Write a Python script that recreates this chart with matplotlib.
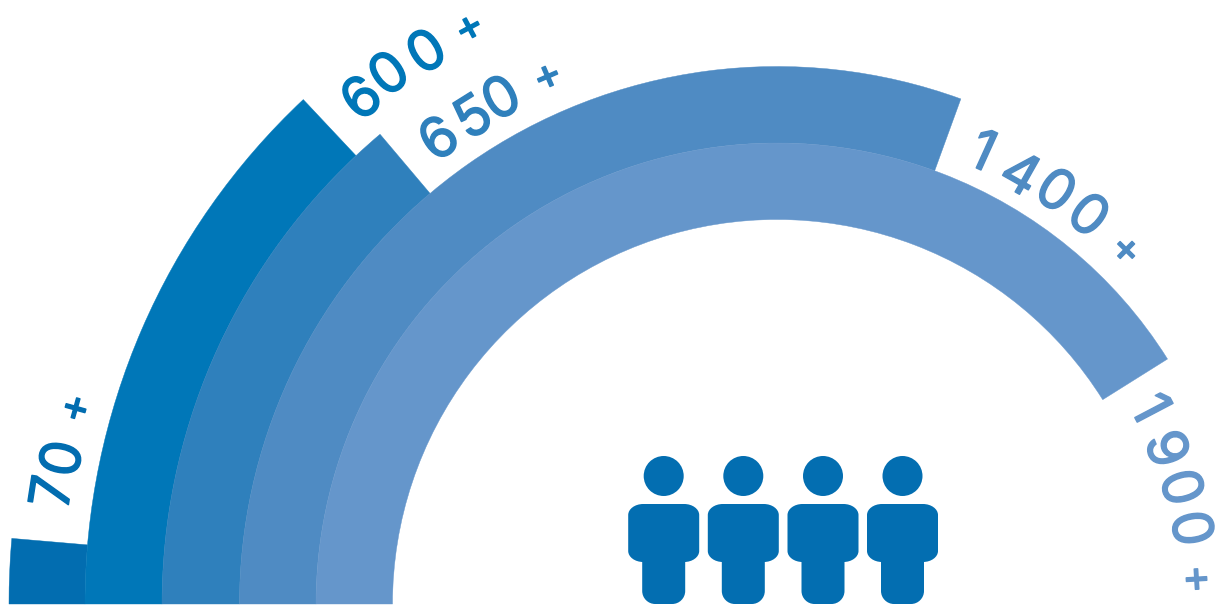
import math
import matplotlib
matplotlib.use("Agg")
import matplotlib.pyplot as plt
import matplotlib.patheffects as pe
from matplotlib.patches import Wedge, Circle, PathPatch
from matplotlib.path import Path

# --- data ---
labels = ["70 +", "600 +", "650 +", "1400 +", "1900 +"]
arc_degrees = [4.9, 46.8, 49.8, 110.0, 147.9]
colors = ["#026DB0", "#0077B8", "#2F80BC", "#4F8BC3", "#6596CB"]
people_count = 4

# --- layout ---
W, H = 1226, 605
CX, CY = 777, 1
RING_EDGES = [768, 692, 615, 537.5, 461, 384.5]
LABEL_RADII = [
    [735.5, 731.5, 731],
    [656.5, 659, 656, 656],
    [577, 576, 578, 578],
    [499.5, 496, 500.5, 500, 500],
    [423.5, 421, 422.5, 423, 423],
]
# angle of each visible character, in degrees clockwise from the left end
LABEL_ANGLES = [
    [8.8, 11.5, 15.6],
    [50.6, 53.8, 57.6, 61.9],
    [54.0, 58.0, 61.4, 66.5],
    [114.4, 119.5, 124.0, 128.7, 134.6],
    [152.3, 158.3, 163.9, 169.65, 176.6],
]
DIGIT_PT, PLUS_PT = 40, 31
DIGIT_DROP, PLUS_DROP = 20, 15  # glyph centre above the baseline, px
PERSON_X = [663.7, 743.3, 823.0, 902.5]
PERSON_COLOR = "#036EB1"


def rounded(x0, y0, x1, y1, rx, ry):
    k = 0.45
    v = [(x0 + rx, y0), (x1 - rx, y0),
         (x1 - rx * k, y0), (x1, y0 + ry * k), (x1, y0 + ry),
         (x1, y1 - ry),
         (x1, y1 - ry * k), (x1 - rx * k, y1), (x1 - rx, y1),
         (x0 + rx, y1),
         (x0 + rx * k, y1), (x0, y1 - ry * k), (x0, y1 - ry),
         (x0, y0 + ry),
         (x0, y0 + ry * k), (x0 + rx * k, y0), (x0 + rx, y0),
         (x0 + rx, y0)]
    c = [Path.MOVETO, Path.LINETO,
         Path.CURVE4, Path.CURVE4, Path.CURVE4,
         Path.LINETO,
         Path.CURVE4, Path.CURVE4, Path.CURVE4,
         Path.LINETO,
         Path.CURVE4, Path.CURVE4, Path.CURVE4,
         Path.LINETO,
         Path.CURVE4, Path.CURVE4, Path.CURVE4,
         Path.CLOSEPOLY]
    return Path(v, c)


fig = plt.figure(figsize=(W / 100, H / 100), dpi=100, facecolor="white")
ax = fig.add_axes([0, 0, 1, 1])
ax.set_xlim(0, W)
ax.set_ylim(0, H)
ax.set_aspect("equal")
ax.axis("off")

for i, (sweep, col) in enumerate(zip(arc_degrees, colors)):
    r = RING_EDGES[i]
    ax.add_patch(Wedge((CX, CY), r, 180 - sweep, 180, width=r - RING_EDGES[i + 1],
                       facecolor=col, edgecolor=col, linewidth=0.3))

for label, radii, angles, col in zip(labels, LABEL_RADII, LABEL_ANGLES, colors):
    chars = label.replace(" ", "")
    for ch, r, a in zip(chars, radii, angles):
        plus = ch == "+"
        rb = r - (PLUS_DROP if plus else DIGIT_DROP)
        t = math.radians(180 - a)
        x = CX + rb * math.cos(t)
        y = CY + rb * math.sin(t)
        ax.text(x, y, ch, color=col, family="Inter",
                fontsize=PLUS_PT if plus else DIGIT_PT, rotation=90 - a,
                rotation_mode="anchor", ha="center", va="baseline",
                path_effects=[pe.withStroke(linewidth=1.1, foreground=col)])

for px in PERSON_X[:people_count]:
    ax.add_patch(Circle((px, H - 476), 20, facecolor=PERSON_COLOR, edgecolor="none"))
    ax.add_patch(PathPatch(rounded(px - 35.5, H - 562, px + 35.5, H - 504, 15, 11),
                           facecolor=PERSON_COLOR, edgecolor="none"))
    ax.add_patch(PathPatch(rounded(px - 21.5, H - 604, px + 21.5, H - 530, 13, 13),
                           facecolor=PERSON_COLOR, edgecolor="none"))

fig.savefig("out.png", dpi=100, facecolor="white")
